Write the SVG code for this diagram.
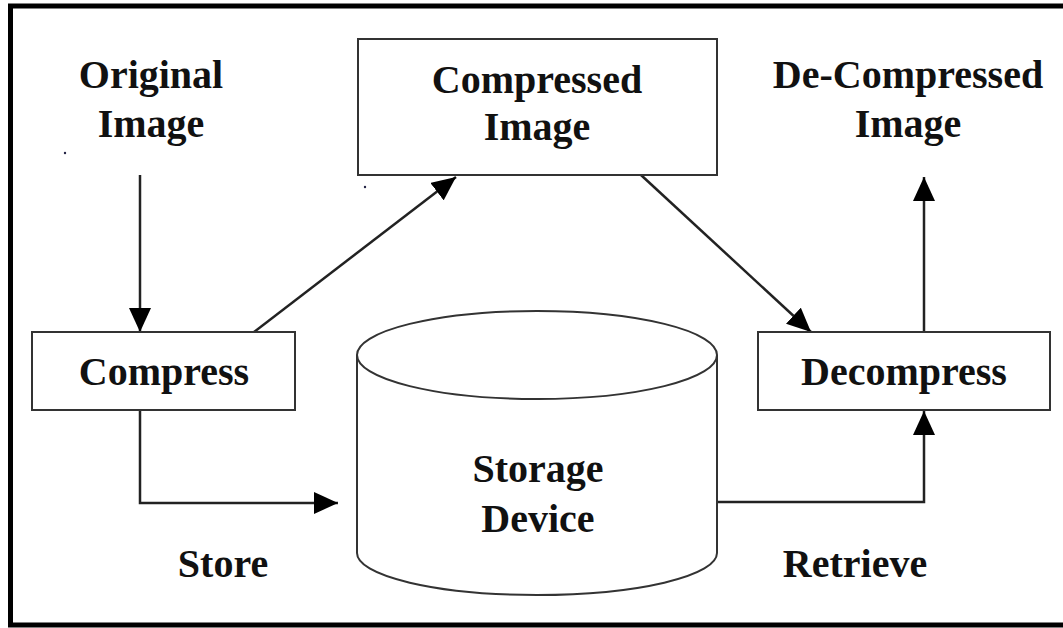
<svg xmlns="http://www.w3.org/2000/svg" width="1063" height="628" viewBox="0 0 1063 628">
<style>
.box{fill:#fff;stroke:#333;stroke-width:2}
.lbl{font-family:"Liberation Serif","Times New Roman",serif;font-weight:bold;font-size:40px;fill:#111;text-anchor:middle}
.con{fill:none;stroke:#222;stroke-width:2.5}
</style>
<defs>
<marker id="ah" viewBox="0 0 24 22" refX="24" refY="11" markerWidth="24" markerHeight="22" markerUnits="userSpaceOnUse" orient="auto">
<path d="M0,0 L24,11 L0,22 Z" fill="#000"/>
</marker>
</defs>
<rect width="1063" height="628" fill="#fff"/>
<path d="M1063,6 H10.5 V625 H1063" fill="none" stroke="#000" stroke-width="5"/>
<circle cx="65" cy="153" r="1.2" fill="#224"/>
<circle cx="365" cy="187" r="1.2" fill="#224"/>

<g id="connectors">
<path class="con" d="M140,175 V332" marker-end="url(#ah)"/>
<path class="con" d="M140,410 V503 H338" marker-end="url(#ah)"/>
<path class="con" d="M254,332 L456,177" marker-end="url(#ah)"/>
<path class="con" d="M641,175 L811,332" marker-end="url(#ah)"/>
<path class="con" d="M924,332 V177" marker-end="url(#ah)"/>
<path class="con" d="M717,502 H924 V411" marker-end="url(#ah)"/>
</g>

<g id="original-image">
<text class="lbl" x="151" y="88">Original</text>
<text class="lbl" x="151" y="137">Image</text>
</g>

<g id="compressed-image">
<rect class="box" x="358" y="39" width="359" height="136"/>
<text class="lbl" x="537" y="93">Compressed</text>
<text class="lbl" x="537" y="140">Image</text>
</g>

<g id="decompressed-image">
<text class="lbl" x="908" y="88">De-Compressed</text>
<text class="lbl" x="908" y="137">Image</text>
</g>

<g id="compress">
<rect class="box" x="32" y="332" width="263" height="78"/>
<text class="lbl" x="164" y="385">Compress</text>
</g>

<g id="decompress">
<rect class="box" x="758" y="332" width="292" height="78"/>
<text class="lbl" x="904" y="385">Decompress</text>
</g>

<g id="storage-device">
<path class="box" d="M357,355 V553 A180,42 0 0 0 717,553 V355"/>
<ellipse class="box" cx="537" cy="355" rx="180" ry="44"/>
<text class="lbl" x="538" y="482">Storage</text>
<text class="lbl" x="538" y="532">Device</text>
</g>

<g id="store-label">
<text class="lbl" x="223" y="577">Store</text>
</g>
<g id="retrieve-label">
<text class="lbl" x="855" y="577">Retrieve</text>
</g>
</svg>
